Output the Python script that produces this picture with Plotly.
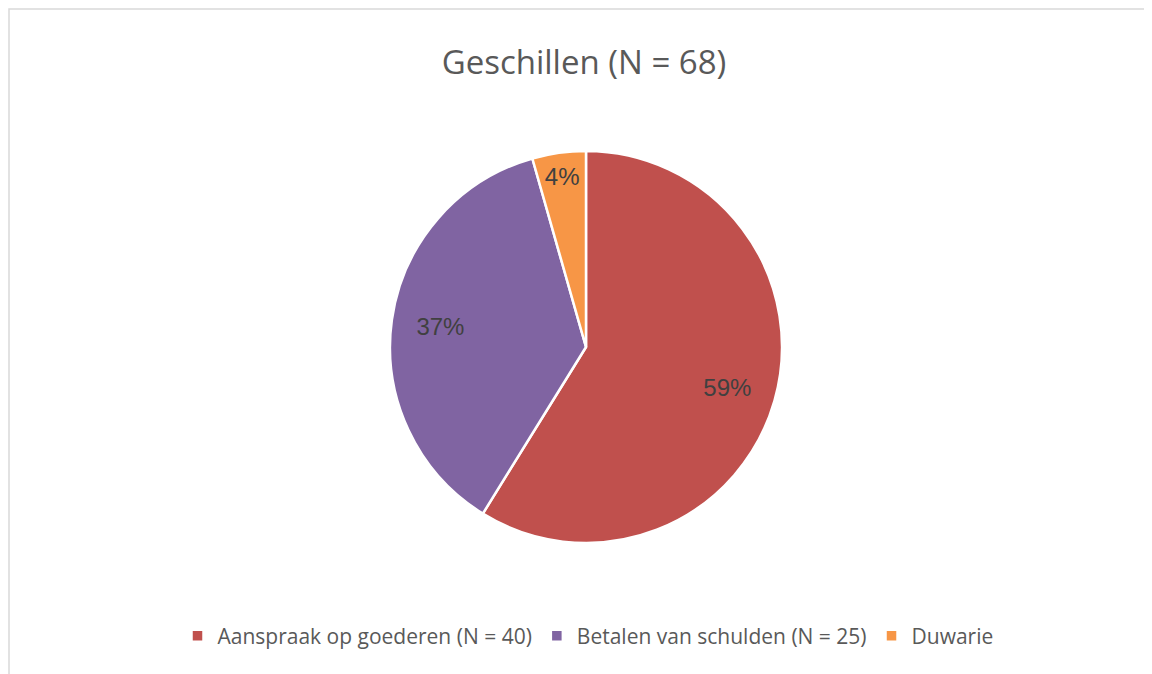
import plotly.graph_objects as go

# data
labels = ["Aanspraak op goederen (N = 40)", "Betalen van schulden (N = 25)", "Duwarie"]
counts = [40, 25, 3]
colors = ["#C0504D", "#8064A2", "#F79646"]

W, H = 1152, 674
OFF = 8  # the html page body adds an 8px margin, so shift everything back

cx, cy, R = 586 - OFF, 347 - OFF, 196
pie_domain = dict(x=[(cx - R) / W, (cx + R) / W], y=[1 - (cy + R) / H, 1 - (cy - R) / H])

fig = go.Figure()

# the slices themselves
fig.add_trace(go.Pie(
    labels=labels,
    values=counts,
    sort=False,
    direction="clockwise",
    rotation=0,
    marker=dict(colors=colors, line=dict(color="white", width=2.5)),
    textinfo="none",
    domain=pie_domain,
    hovertemplate="<b>%{label}</b><br>Aantal: %{value}<extra></extra>",
))

# transparent ring on top, only to push the percent labels outward like Excel does
fig.add_trace(go.Pie(
    labels=labels,
    values=counts,
    sort=False,
    direction="clockwise",
    rotation=0,
    hole=0.5,
    marker=dict(colors=["rgba(0,0,0,0)"] * 3, line=dict(width=0)),
    texttemplate="%{percent:.0%}",
    textposition="inside",
    insidetextorientation="horizontal",
    insidetextfont=dict(family="Liberation Sans, Arial", size=24, color="#404040"),
    domain=pie_domain,
    showlegend=False,
    hoverinfo="skip",
))

# light grey chart-area border (runs off the right and bottom edges)
fig.add_shape(type="rect", xref="paper", yref="paper",
              x0=1 / W, x1=1.02, y0=-0.02, y1=1 - 1 / H,
              line=dict(color="#D9D9D9", width=1.5), layer="below")

fig.update_layout(
    width=W, height=H,
    margin=dict(l=0, r=0, t=0, b=0),
    paper_bgcolor="white",
    font=dict(family="Open Sans", color="#595959"),
    title=dict(text="Geschillen (N = 68)", x=(584 - OFF) / W, xanchor="center",
               y=1 - (62 - OFF) / H, yanchor="middle",
               font=dict(family="Open Sans", size=33, color="#595959")),
    showlegend=True,
    legend=dict(orientation="h", x=(588 - OFF) / W, xanchor="center",
                y=1 - (636 - OFF) / H, yanchor="middle",
                font=dict(family="Open Sans", size=21, color="#595959"),
                itemwidth=30, traceorder="normal"),
)

fig.write_html("out.html")
